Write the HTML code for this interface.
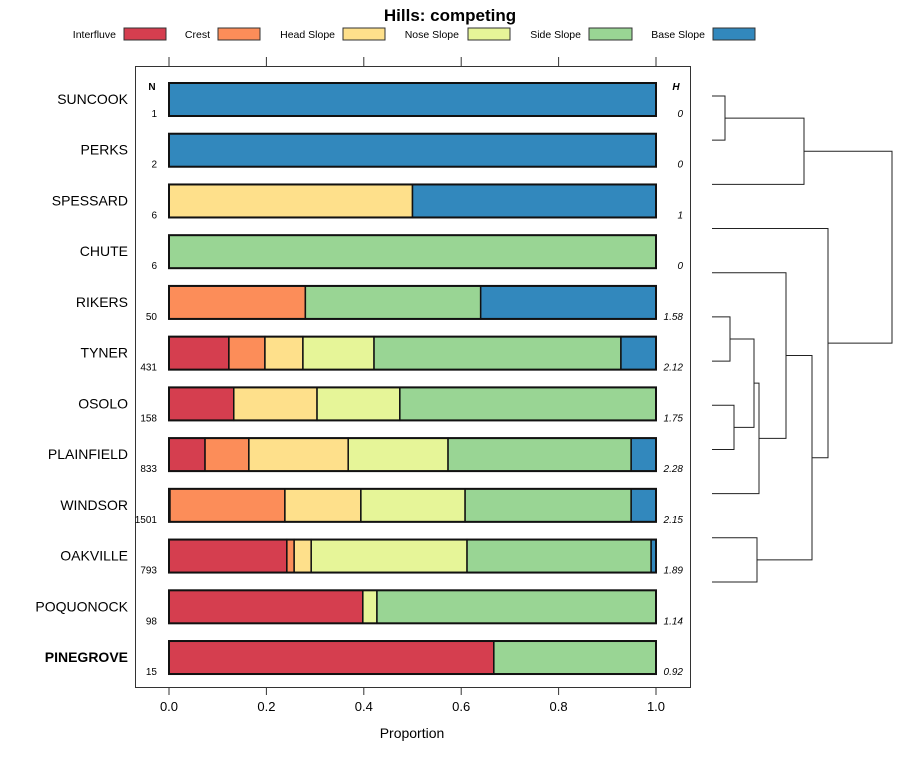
<!DOCTYPE html>
<html><head><meta charset="utf-8"><style>
body{margin:0;background:#fff;font-family:"Liberation Sans",sans-serif}
svg text{font-family:"Liberation Sans",sans-serif}
</style></head><body>
<svg id="c" width="900" height="760" xmlns="http://www.w3.org/2000/svg"></svg>
<script>
const categories=["SUNCOOK","PERKS","SPESSARD","CHUTE","RIKERS","TYNER","OSOLO","PLAINFIELD","WINDSOR","OAKVILLE","POQUONOCK","PINEGROVE"];
const seriesNames=["Interfluve","Crest","Head Slope","Nose Slope","Side Slope","Base Slope"];
const colors=["#d53e4f","#fc8d59","#fee08b","#e6f598","#99d594","#3288bd"];
const interfluve=[0,0,0,0,0,0.123,0.133,0.074,0.002,0.242,0.398,0.667];
const crest=[0,0,0,0,0.28,0.074,0,0.09,0.236,0.015,0,0];
const headSlope=[0,0,0.5,0,0,0.078,0.171,0.204,0.156,0.035,0,0];
const noseSlope=[0,0,0,0,0,0.146,0.17,0.205,0.214,0.32,0.029,0];
const sideSlope=[0,0,0,1,0.36,0.507,0.526,0.376,0.341,0.378,0.573,0.333];
const baseSlope=[1,1,0.5,0,0.36,0.072,0,0.051,0.051,0.01,0,0];
const nValues=["1","2","6","6","50","431","158","833","1501","793","98","15"];
const hValues=["0","0","1","0","1.58","2.12","1.75","2.28","2.15","1.89","1.14","0.92"];
const xTicks=[0,0.2,0.4,0.6,0.8,1.0];
const xTickLabels=["0.0","0.2","0.4","0.6","0.8","1.0"];
// dendrogram: merges [left,right,height]; negative/zero = leaf index, positive = merge index (1-based)
const merges=[[-0,-1,0.13],[1,-2,0.92],[-5,-6,0.18],[-7,-8,0.22],[3,4,0.42],[5,-9,0.47],[-4,6,0.74],[-10,-11,0.45],[7,8,1.0],[-3,9,1.16],[2,10,1.80]];
const svg=document.getElementById('c');const NS="http://www.w3.org/2000/svg";
function mk(t,a,p){const e=document.createElementNS(NS,t);for(const k in a)e.setAttribute(k,a[k]);(p||svg).appendChild(e);return e;}
const X=v=>169+v*487, Y=i=>99+i*50.73;
const series=[interfluve,crest,headSlope,noseSlope,sideSlope,baseSlope];
let t=mk('text',{x:450,y:21,'text-anchor':'middle','font-size':17,'font-weight':'bold'});t.textContent="Hills: competing";


const legX=[[116,124,166],[210,218,260],[335,343,385],[459,468,510],[581,589,632],[705,713,755]];
seriesNames.forEach((n,i)=>{const g=mk('g',{});


const tt=mk('text',{x:legX[i][0],y:38,'text-anchor':'end','font-size':10.5},g);tt.textContent=n;
mk('rect',{x:legX[i][1],y:28,width:legX[i][2]-legX[i][1],height:12,fill:colors[i],stroke:'#333','stroke-width':1},g);});
const frame=mk('rect',{x:135.5,y:66.5,width:555,height:621,fill:'none',stroke:'#333'});


xTicks.forEach((v,i)=>{mk('line',{x1:X(v),x2:X(v),y1:57,y2:66,stroke:'#333'});mk('line',{x1:X(v),x2:X(v),y1:688,y2:695,stroke:'#333'});
const l=mk('text',{x:X(v),y:711,'text-anchor':'middle','font-size':13});l.textContent=xTickLabels[i];

});
t=mk('text',{x:412,y:738,'text-anchor':'middle','font-size':14});t.textContent="Proportion";


t=mk('text',{x:152,y:90,'text-anchor':'middle','font-size':10,'font-weight':'bold'});t.textContent="N";
t=mk('text',{x:676,y:90,'text-anchor':'middle','font-size':10,'font-weight':'bold','font-style':'italic'});t.textContent="H";
categories.forEach((c,i)=>{const y=Y(i);
const l=mk('text',{x:128,y:y+5,'text-anchor':'end','font-size':14,'font-weight':i==11?'bold':'normal'});l.textContent=c;


const n=mk('text',{x:157,y:y+18,'text-anchor':'end','font-size':10});n.textContent=nValues[i];


const h=mk('text',{x:683,y:y+18,'text-anchor':'end','font-size':10,'font-style':'italic'});h.textContent=hValues[i];


let cum=0;series.forEach((s,j)=>{const v=s[i];if(v>0){const r=mk('rect',{x:X(cum),y:y-16,width:X(cum+v)-X(cum),height:33,fill:colors[j],stroke:'#111','stroke-width':1.5});

}cum+=v;});
mk('rect',{x:X(0),y:y-16,width:X(1)-X(0),height:33,fill:'none',stroke:'#111','stroke-width':2});});
const leafY=i=>96+i*44.18, HX=h=>712+h*100;
const pos=[];
function node(r){if(r<=0)return {x:712,y:leafY(-r)};return pos[r-1];}
merges.forEach((m,k)=>{const a=node(m[0]),b=node(m[1]),hx=HX(m[2]);
const p=mk('path',{d:`M${a.x},${a.y}H${hx}V${b.y}H${b.x}`,fill:'none',stroke:'#222','stroke-width':1});


pos.push({x:hx,y:(a.y+b.y)/2});});
</script>
</body></html>
